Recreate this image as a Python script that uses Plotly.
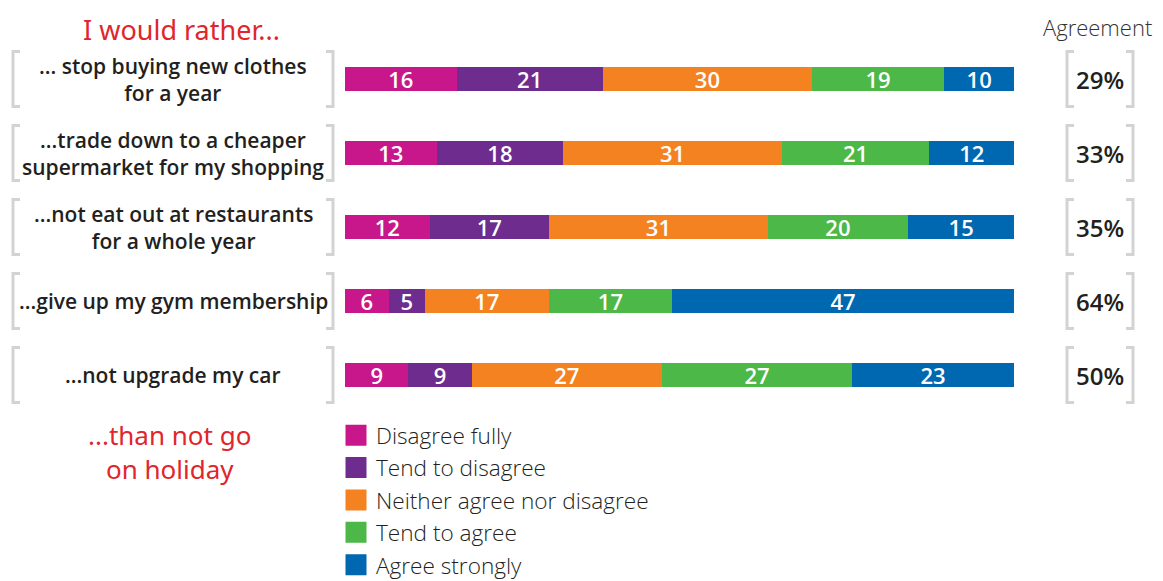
import plotly.graph_objects as go

categories = [
    "... stop buying new clothes<br>for a year",
    "...trade down to a cheaper<br>supermarket for my shopping",
    "...not eat out at restaurants<br>for a whole year",
    "...give up my gym membership",
    "...not upgrade my car",
]
series_names = ["Disagree fully", "Tend to disagree", "Neither agree nor disagree",
                "Tend to agree", "Agree strongly"]
disagree_fully = [16, 13, 12, 6, 9]
tend_to_disagree = [21, 18, 17, 5, 9]
neither = [30, 31, 31, 17, 27]
tend_to_agree = [19, 21, 20, 17, 27]
agree_strongly = [10, 12, 15, 47, 23]
series_values = [disagree_fully, tend_to_disagree, neither, tend_to_agree, agree_strongly]
colors = ["#c8178a", "#6d2c8e", "#f58220", "#4cb848", "#0067b1"]
agreement = [a + b for a, b in zip(tend_to_agree, agree_strongly)]

# the page body has an 8px margin; the figure starts at (8, 8) in the window
OFF = 8
W, H = 1163 - OFF, 584


def px(x):
    return (x - OFF) / W


def py(y):
    return 1 - (y - OFF) / H


row_px0, row_step = 79, 74
ypos = list(range(len(categories)))

fig = go.Figure()
for name, vals, col in zip(series_names, series_values, colors):
    fig.add_trace(go.Bar(
        y=ypos, x=vals, orientation="h", name=name,
        marker=dict(color=col, line=dict(width=0)),
        text=[str(v) for v in vals], texttemplate="%{text}",
        textposition="inside", insidetextanchor="middle", textangle=0,
        textfont=dict(family="Open Sans", size=22, color="white", weight=600),
        constraintext="none", showlegend=False, hoverinfo="skip",
    ))
# legend entries with large square swatches
for name, col in zip(series_names, colors):
    fig.add_trace(go.Scatter(
        x=[None], y=[None], mode="markers", name=name,
        marker=dict(symbol="square", size=16, color=col, line=dict(width=5, color=col)),
        showlegend=True,
    ))

# y mapping: row i at reference pixel row_px0 + row_step*i
y_top = -(row_px0 - OFF) / row_step
y_bot = (H - (row_px0 - OFF)) / row_step

grey = "#d3d3d3"
half = 0.372
foot = 7 / W
shapes = []
annotations = []


def bracket(xp, i, side):
    d = foot if side == "l" else -foot
    return dict(type="path", xref="paper", yref="y",
                path=f"M {xp+d},{i-half} L {xp},{i-half} L {xp},{i+half} L {xp+d},{i+half}",
                line=dict(color=grey, width=3))


for i, (cat, ag) in enumerate(zip(categories, agreement)):
    shapes.append(bracket(px(13), i, "l"))
    shapes.append(bracket(px(333), i, "r"))
    shapes.append(bracket(px(1067), i, "l"))
    shapes.append(bracket(px(1133), i, "r"))
    annotations.append(dict(x=px(173), y=i, xref="paper", yref="y", text=cat,
                            showarrow=False, xanchor="center", yanchor="middle",
                            font=dict(family="Open Sans", size=21, color="#231f20", weight=600)))
    annotations.append(dict(x=px(1100), y=i, xref="paper", yref="y", text=f"{ag}%",
                            showarrow=False, xanchor="center", yanchor="middle",
                            font=dict(family="Open Sans", size=24, color="#231f20", weight=600)))

annotations.append(dict(x=px(1097), y=py(27), xref="paper", yref="paper", text="Agreement",
                        showarrow=False, xanchor="center", yanchor="middle",
                        font=dict(family="Open Sans", size=22, color="#333333", weight=300)))
red = "#e0262c"
annotations.append(dict(x=px(181), y=py(9), xref="paper", yref="paper", text="I would rather...",
                        showarrow=False, xanchor="center", yanchor="top",
                        font=dict(family="Noto Sans", size=27, color=red)))
annotations.append(dict(x=px(169), y=py(452), xref="paper", yref="paper",
                        text="...than not go<br>on holiday", align="center",
                        showarrow=False, xanchor="center", yanchor="middle",
                        font=dict(family="Noto Sans", size=26, color=red)))

fig.update_layout(
    width=W, height=H,
    margin=dict(l=0, r=0, t=0, b=0),
    paper_bgcolor="white", plot_bgcolor="white",
    barmode="stack", barnorm="percent", bargap=0.676,
    xaxis=dict(domain=[px(345), px(1014)], range=[0, 100], visible=False, fixedrange=True),
    yaxis=dict(range=[y_bot, y_top], visible=False, fixedrange=True),
    shapes=shapes, annotations=annotations,
    legend=dict(x=px(336), y=py(414), xanchor="left", yanchor="top",
                font=dict(family="Open Sans", size=22.6, color="#231f20", weight=300),
                traceorder="normal", tracegroupgap=0,
                bgcolor="rgba(0,0,0,0)", itemclick=False),
    showlegend=True,
)

fig.write_html("out.html")
